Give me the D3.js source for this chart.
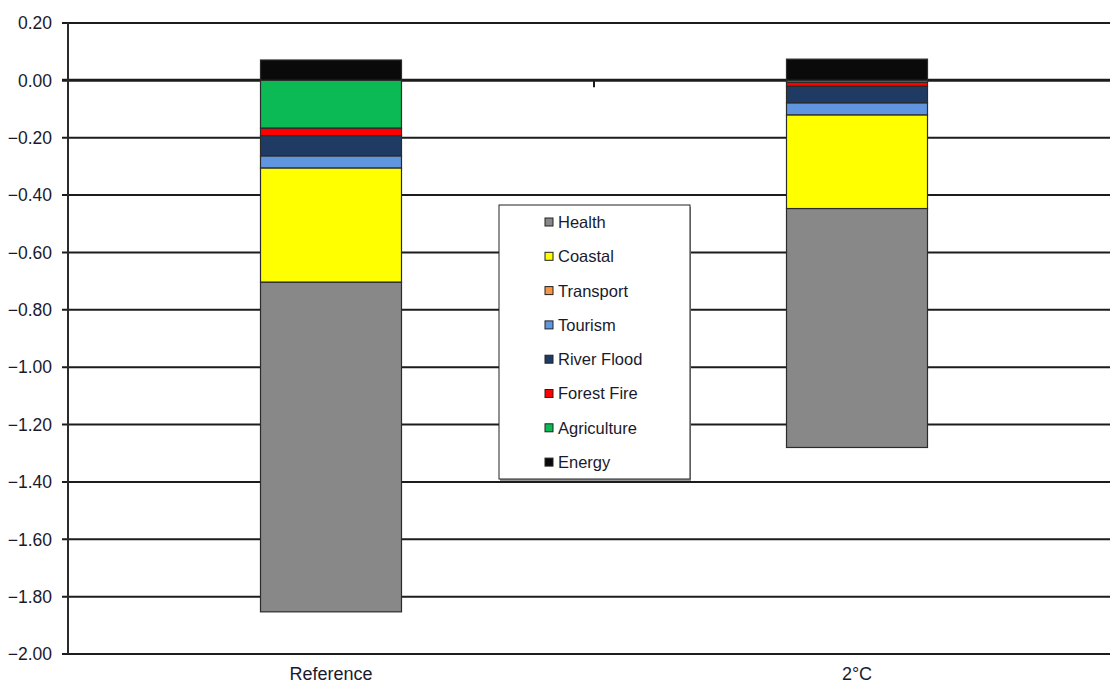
<!DOCTYPE html>
<html>
<head>
<meta charset="utf-8">
<script src="https://cdn.jsdelivr.net/npm/d3@7"></script>
<style>
  body { margin: 0; background: #fff; }
  text { font-family: "Liberation Sans", Arial, sans-serif; fill: #1a1a2e; }
</style>
</head>
<body>
<div id="chart"></div>
<script>
// Data
const categories = ["Reference", "2°C"];
const sectors = ["Health", "Coastal", "Transport", "Tourism", "River Flood", "Forest Fire", "Agriculture", "Energy"];
const health      = [-1.149, -0.833];
const coastal     = [-0.398, -0.326];
const transport   = [0.000, 0.000];
const tourism     = [-0.042, -0.042];
const riverFlood  = [-0.071, -0.058];
const forestFire  = [-0.026, -0.014];
const agriculture = [-0.167, -0.007];
const energy      = [0.071, 0.074];
const yTicks = [0.2, 0, -0.2, -0.4, -0.6, -0.8, -1.0, -1.2, -1.4, -1.6, -1.8, -2.0];

const colors = {
    "Health": "#888888",
    "Coastal": "#ffff00",
    "Transport": "#f79646",
    "Tourism": "#5f96df",
    "River Flood": "#1f3b63",
    "Forest Fire": "#ff0000",
    "Agriculture": "#0bba55",
    "Energy": "#0a0a0a"
};

const values = {
    "Health": health, "Coastal": coastal, "Transport": transport, "Tourism": tourism,
    "River Flood": riverFlood, "Forest Fire": forestFire, "Agriculture": agriculture, "Energy": energy
};

const rows = categories.map((c, i) => {
    const r = { cat: c };
    sectors.forEach(s => r[s] = values[s][i]);
    return r;
});

const W = 1110, H = 683;
const plotLeft = 68, plotRight = 1120, plotTop = 23, plotBottom = 654;

const svg = d3.select("#chart").append("svg")
    .attr("width", W)
    .attr("height", H);

const x = d3.scaleBand().domain(categories).range([plotLeft, plotRight]).padding(0);
const y = d3.scaleLinear().domain([-2, 0.2]).range([plotBottom, plotTop]);
const barW = 141;

// grid lines
svg.append("g")
    .selectAll("line")
    .data(yTicks)
    .join("line")
    .attr("x1", plotLeft - 6)
    .attr("x2", W)
    .attr("y1", d => y(d))
    .attr("y2", d => y(d))
    .attr("stroke", "#1c1c1c")
    .attr("stroke-width", d => d === 0 ? 3 : 2);

// y axis line
svg.append("line")
    .attr("x1", plotLeft).attr("x2", plotLeft)
    .attr("y1", plotTop).attr("y2", plotBottom)
    .attr("stroke", "#2a2a2a")
    .attr("stroke-width", 2);

// tick labels
svg.append("g")
    .selectAll("text")
    .data(yTicks)
    .join("text")
    .attr("x", 52)
    .attr("y", d => y(d))
    .attr("dy", "0.36em")
    .attr("text-anchor", "end")
    .attr("font-size", 17.5)
    .text(d => d3.format(".2f")(d));

// category boundary ticks on zero line
svg.append("g")
    .selectAll("line")
    .data(categories.slice(1))
    .join("line")
    .attr("x1", d => x(d)).attr("x2", d => x(d))
    .attr("y1", y(0)).attr("y2", y(0) + 7)
    .attr("stroke", "#1c1c1c")
    .attr("stroke-width", 2);

// stacked bars: order outward from zero
const stackKeys = sectors.slice().reverse();
const series = d3.stack()
    .keys(stackKeys)
    .offset(d3.stackOffsetDiverging)(rows);

svg.append("g")
    .selectAll("g")
    .data(series)
    .join("g")
    .attr("fill", d => colors[d.key])
    .selectAll("rect")
    .data(d => d.filter(p => p[1] - p[0] !== 0))
    .join("rect")
    .attr("x", d => x(d.data.cat) + (x.bandwidth() - barW) / 2)
    .attr("width", barW)
    .attr("y", d => y(d[1]))
    .attr("height", d => y(d[0]) - y(d[1]))
    .attr("stroke", "#2b2b2b")
    .attr("stroke-width", 1.2);

// category labels
svg.append("g")
    .selectAll("text")
    .data(categories)
    .join("text")
    .attr("x", d => x(d) + x.bandwidth() / 2)
    .attr("y", 680)
    .attr("text-anchor", "middle")
    .attr("font-size", 18)
    .text(d => d);

// legend
const legend = svg.append("g").attr("transform", "translate(499,205)");
legend.append("rect")
    .attr("x", 1).attr("y", 2)
    .attr("width", 191).attr("height", 274)
    .attr("fill", "#999");
legend.append("rect")
    .attr("width", 191).attr("height", 274)
    .attr("fill", "#fff")
    .attr("stroke", "#222")
    .attr("stroke-width", 1);

const item = legend.selectAll("g.item")
    .data(sectors)
    .join("g")
    .attr("class", "item")
    .attr("transform", (d, i) => `translate(0,${17 + i * 34.3})`);

item.append("rect")
    .attr("x", 46).attr("y", -4)
    .attr("width", 8).attr("height", 8)
    .attr("fill", d => colors[d])
    .attr("stroke", "#222")
    .attr("stroke-width", 1);

item.append("text")
    .attr("x", 59)
    .attr("y", 0)
    .attr("dy", "0.36em")
    .attr("font-size", 16.5)
    .text(d => d);
</script>
</body>
</html>
